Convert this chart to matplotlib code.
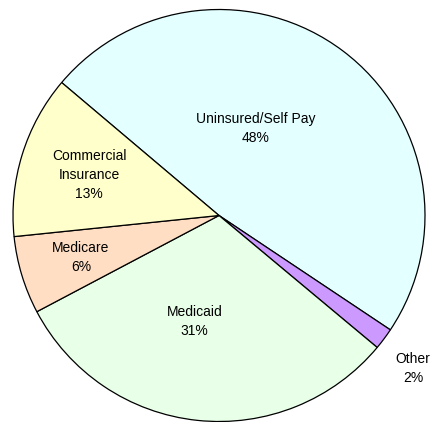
import numpy as np
import matplotlib
matplotlib.use("Agg")
import matplotlib.pyplot as plt

# payer mix (percent), clockwise from upper left
categories = ["Uninsured/Self Pay", "Other", "Medicaid", "Medicare", "Commercial\nInsurance"]
values = [48.2, 1.7, 31.2, 6.1, 12.8]
pct_labels = ["48%", "2%", "31%", "6%", "13%"]

colors = ["#E3FFFF", "#CC99FF", "#E8FFE8", "#FFDEC4", "#FFFFCC"]
# radial position of each label (fraction of radius) and angle shift (deg)
label_r = [0.46, 1.20, 0.53, 0.70, 0.66]
label_shift = [14, -1.5, -7, 0, 0]

plt.rcParams['font.family'] = ['Liberation Sans', 'DejaVu Sans']

fig = plt.figure(figsize=(4.32, 4.22), dpi=100)
ax = fig.add_axes([0, 0, 1, 1])

cx, cy, rad = 219, 422 - 215.5, 206
wedges, _ = ax.pie(values, colors=colors, startangle=139.8, counterclock=False,
                   center=(cx, cy), radius=rad, frame=True,
                   wedgeprops=dict(edgecolor="black", linewidth=0.9))
ax.set_xlim(0, 432)
ax.set_ylim(0, 422)
ax.set_aspect("equal")
ax.axis("off")

for w, name, pct, r, sh in zip(wedges, categories, pct_labels, label_r, label_shift):
    ang = np.deg2rad((w.theta1 + w.theta2) / 2 + sh)
    x = cx + r * rad * np.cos(ang)
    y = cy + r * rad * np.sin(ang)
    ax.text(x, y, name + "\n" + pct, ha="center", va="center",
            fontsize=10, linespacing=1.45, color="black")

fig.savefig("out.png", dpi=100)
